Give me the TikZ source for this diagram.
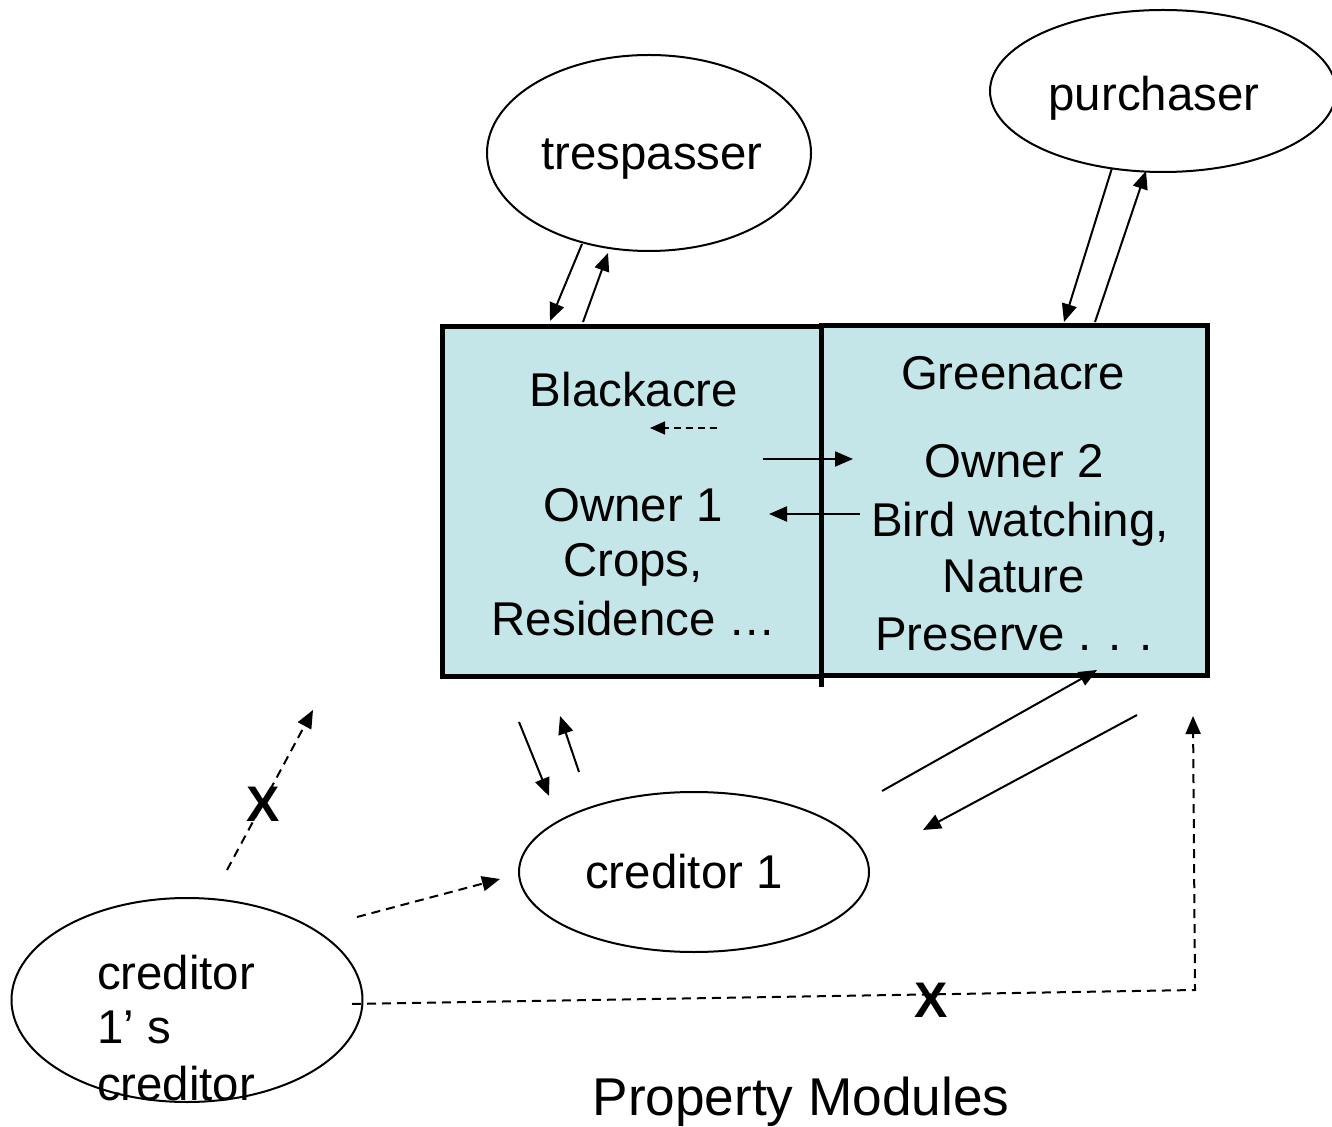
\documentclass[tikz,border=0pt]{standalone}
\usepackage{fontspec}
\setmainfont{Liberation Sans}
\usetikzlibrary{shapes.geometric,arrows.meta}
\definecolor{acre}{RGB}{197,230,232}
\begin{document}
\begin{tikzpicture}[x=0.5pt,y=-0.5pt,
  every node/.style={font=\fontsize{23.7pt}{28pt}\selectfont, inner sep=0pt, outer sep=0pt},
  party/.style={draw, line width=1pt, ellipse, inner sep=0pt},
  lbl/.style={anchor=base},
  parcel/.style={draw, line width=2.5pt, fill=acre},
  arr/.style={line width=1pt, -{Triangle[length=9pt,width=7.5pt]}},
  darr/.style={arr, dash pattern=on 4.5pt off 3pt},
  sarr/.style={line width=0.8pt, dash pattern=on 3.5pt off 2.5pt, -{Triangle[length=7.5pt,width=6.5pt]}},
  cross/.style={font=\fontsize{25pt}{28pt}\selectfont\bfseries}
]
\useasboundingbox (0,0) rectangle (1332,1127);

% the two parcels
\draw[parcel] (442,327) rectangle (821,676);
\draw[parcel] (821,326) rectangle (1207,675);
\draw[line width=2.5pt] (821,326) -- (821,687);

% parties
\node[party, minimum width=162pt, minimum height=98pt] (tres) at (649,153) {};
\node[party, minimum width=173pt, minimum height=81pt] (purch) at (1163,91) {};
\node[party, minimum width=175pt, minimum height=80pt] (cred) at (694,872) {};
\node[party, minimum width=175.5pt, minimum height=102pt] (ccred) at (187,1000) {};

% labels
\node[lbl] (tresL) at (652,170) {trespasser};
\node[lbl] (purchL) at (1154,111) {purchaser};
\node[lbl] (credL) at (684,888) {creditor 1};
\node[anchor=base west] (ccredA) at (97,989) {creditor};
\node[anchor=base west] (ccredB) at (97,1043) {1’\hspace{7pt}s};
\node[anchor=base west] (ccredC) at (97,1100) {creditor};

\node[lbl] (blackL) at (634,407) {Blackacre};
\node[lbl] (own1) at (633,522) {Owner 1};
\node[lbl] (crops) at (633,577) {Crops,};
\node[lbl] (resid) at (634,635) {Residence …};

\node[lbl] (greenL) at (1013,390) {Greenacre};
\node[lbl] (own2) at (1014,478) {Owner 2};
\node[lbl] (bird) at (1020,537) {Bird watching,};
\node[lbl] (nat) at (1014,593) {Nature};
\node[lbl] (pres) at (1014,650) {Preserve . . .};

\node[lbl, font=\fontsize{26.6pt}{30pt}\selectfont] (title) at (801,1115) {Property Modules};

% connector end points
\coordinate (t1a) at (582,244);  \coordinate (t1b) at (550,321);
\coordinate (t2a) at (583,322);  \coordinate (t2b) at (608,253);
\coordinate (p1a) at (1112,168); \coordinate (p1b) at (1064,322);
\coordinate (p2a) at (1095,322); \coordinate (p2b) at (1146,171);
\coordinate (b1a) at (717,428);  \coordinate (b1b) at (650,428);
\coordinate (r1a) at (763,459);  \coordinate (r1b) at (853,459);
\coordinate (l1a) at (860,514);  \coordinate (l1b) at (769,514);
\coordinate (c1a) at (519,722);  \coordinate (c1b) at (549,796);
\coordinate (c2a) at (579,772);  \coordinate (c2b) at (560,716);
\coordinate (g1a) at (882,791);  \coordinate (g1b) at (1097,670);
\coordinate (g2a) at (1137,715); \coordinate (g2b) at (923,830);
\coordinate (x1a) at (227,870);  \coordinate (x1b) at (313,710);
\coordinate (d1a) at (357,917);  \coordinate (d1b) at (500,879);
\coordinate (h1a) at (352,1004); \coordinate (h1k) at (1195,990);
\coordinate (h1b) at (1193,716);

% connectors
\draw[arr] (t1a) -- (t1b);
\draw[arr] (t2a) -- (t2b);
\draw[arr] (p1a) -- (p1b);
\draw[arr] (p2a) -- (p2b);
\draw[sarr] (b1a) -- (b1b);
\draw[arr] (r1a) -- (r1b);
\draw[arr] (l1a) -- (l1b);
\draw[arr] (c1a) -- (c1b);
\draw[arr] (c2a) -- (c2b);
\draw[arr] (g1a) -- (g1b);
\draw[arr] (g2a) -- (g2b);
\draw[darr] (x1a) -- (x1b);
\draw[darr] (d1a) -- (d1b);
\draw[darr] (h1a) -- (h1k) -- (h1b);

% blocked links
\node[cross] (xa) at (263,804) {X};
\node[cross] (xb) at (931,1000) {X};
\end{tikzpicture}
\end{document}
